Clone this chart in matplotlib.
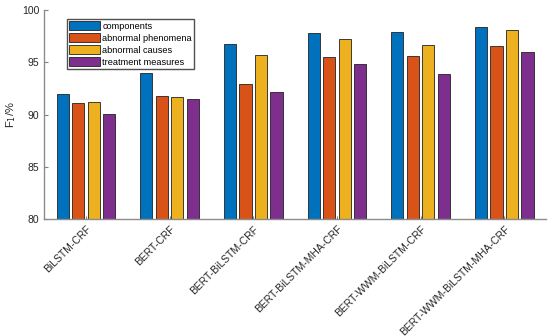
import numpy as np
import matplotlib.pyplot as plt

plt.rcParams['font.family'] = ['Liberation Sans', 'DejaVu Sans']

models = ["BiLSTM-CRF", "BERT-CRF", "BERT-BiLSTM-CRF", "BERT-BiLSTM-MHA-CRF",
          "BERT-WWM-BiLSTM-CRF", "BERT-WWM-BiLSTM-MHA-CRF"]
series = ["components", "abnormal phenomena", "abnormal causes", "treatment measures"]
components = [91.95, 93.95, 96.8, 97.8, 97.9, 98.4]
phenomena = [91.1, 91.75, 92.9, 95.5, 95.65, 96.6]
causes = [91.2, 91.7, 95.7, 97.2, 96.7, 98.1]
measures = [90.1, 91.45, 92.2, 94.8, 93.9, 96.0]
colors = ["#0072BD", "#D95319", "#EDB120", "#7E2F8E"]

fig = plt.figure(figsize=(5.5, 3.36), dpi=100)
ax = fig.add_axes([0.08, 0.348, 0.913, 0.622])

x = np.arange(1, len(models) + 1)
step = 0.185
width = 0.145
for i, vals in enumerate([components, phenomena, causes, measures]):
    ax.bar(x + (i - 1.5) * step, np.array(vals) - 80, width, bottom=80,
           color=colors[i], edgecolor="#222222", linewidth=0.6, label=series[i])

ax.set_xlim(0.5, 6.5)
ax.set_ylim(80, 100)
ax.set_yticks([80, 85, 90, 95, 100])
ax.set_xticks(x)
ax.set_xticklabels(models, rotation=45, ha="right", rotation_mode="anchor", fontsize=7.5)
ax.tick_params(axis="y", direction="in", length=3, labelsize=7.5, colors="#262626", color="#808080")
ax.tick_params(axis="x", direction="in", length=2, color="#808080", labelcolor="#262626")
for s in ["top", "right"]:
    ax.spines[s].set_visible(False)
for s in ["left", "bottom"]:
    ax.spines[s].set_color("#8c8c8c")
    ax.spines[s].set_linewidth(1.0)
ax.set_ylabel("F$_1$/%", fontsize=8, color="#262626", labelpad=3)

ax.legend(loc="upper left", bbox_to_anchor=(0.046, 0.957), fontsize=6.6, frameon=True,
          fancybox=False, edgecolor="#262626", handlelength=3.3, handleheight=1.0,
          handletextpad=0.3, borderpad=0.25, labelspacing=0.3, borderaxespad=0)

fig.savefig("out.png", dpi=100)
